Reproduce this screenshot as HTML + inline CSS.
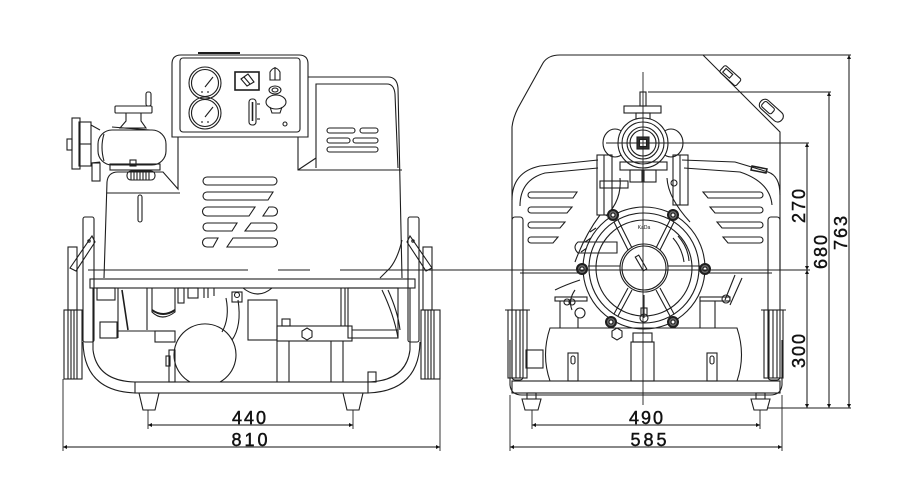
<!DOCTYPE html>
<html><head><meta charset="utf-8"><style>
html,body{margin:0;padding:0;background:#fff;}
svg{display:block;}
text{font-family:"Liberation Sans",sans-serif;fill:#111;font-size:18px;stroke:#111;stroke-width:0.45;}
</style></head><body>
<svg width="900" height="489" viewBox="0 0 900 489" xmlns="http://www.w3.org/2000/svg">
<defs>
<marker id="ar" viewBox="0 0 10 10" refX="10" refY="5" markerWidth="7" markerHeight="4" orient="auto-start-reverse" markerUnits="userSpaceOnUse"><path d="M0,0 L10,5 L0,10 z" fill="#111"/></marker>
</defs>
<rect width="900" height="489" fill="#fff"/>

<!-- ================= LEFT VIEW ================= -->
<g fill="none" stroke="#1e1e1e" stroke-width="1.1">
<rect x="68" y="247" width="9" height="63"/>
<rect x="83" y="217" width="11" height="125" rx="2"/>
<path d="M70,268 L92,236 L95,242 L76,271 Z"/>
<circle cx="89" cy="241" r="1.2"/>
<rect x="423" y="247" width="9" height="63"/>
<rect x="408" y="217" width="11" height="125" rx="2"/>
<path d="M432,268 L410,236 L407,242 L426,271 Z"/>
<circle cx="413" cy="241" r="1.2"/>

<!-- panel -->
<path d="M172,137 L172,64 Q172,55 181,55 L299,55 Q308,55 308,64 L308,137 Z"/>
<rect x="180" y="58" width="120" height="74" rx="3"/>
<line x1="198" y1="53" x2="240" y2="53" stroke-width="2"/>
<circle cx="205" cy="83" r="16"/><circle cx="205" cy="83" r="13.5"/>
<line x1="205" y1="87" x2="213" y2="77"/>
<line x1="201" y1="92" x2="203" y2="92"/><line x1="207" y1="92" x2="209" y2="92"/>
<circle cx="205" cy="113" r="16"/><circle cx="205" cy="113" r="13.5"/>
<line x1="205" y1="117" x2="213" y2="107"/>
<line x1="201" y1="122" x2="203" y2="122"/><line x1="207" y1="122" x2="209" y2="122"/>
<rect x="235" y="72" width="24" height="18" stroke-width="1.6"/>
<path d="M241,79 L248,74 L254,82 L247,86 Z"/>
<line x1="244" y1="77" x2="250" y2="84"/>
<path d="M270,80 L270,72 Q275,64 280,72 L280,80 Z"/>
<line x1="275" y1="67" x2="275" y2="80"/>
<ellipse cx="275" cy="90" rx="6" ry="4"/><ellipse cx="275" cy="90" rx="3" ry="2"/>
<rect x="249" y="99" width="7" height="26" rx="3"/>
<line x1="252.5" y1="102" x2="252.5" y2="121" stroke-width="1.6"/>
<line x1="257" y1="104" x2="260" y2="104"/><line x1="257" y1="119" x2="260" y2="119"/>
<ellipse cx="276" cy="102" rx="10" ry="7"/>
<path d="M270,107 L272,113 L280,113 L282,107"/>
<circle cx="285" cy="124" r="2"/>

<!-- right housing -->
<path d="M308,77 L388,77 Q397,77 398,88 L402,278"/>
<path d="M316,168 L316,84 L387,84 Q394,84 395,94 L398,168"/>
<path d="M298,137 L298,170 L402,170"/>
<line x1="298" y1="170" x2="316" y2="158"/>
<rect x="327" y="128" width="28" height="5" rx="2.5"/>
<rect x="360" y="128" width="18" height="5" rx="2.5"/>
<rect x="327" y="138" width="23" height="5" rx="2.5"/>
<rect x="353" y="138" width="25" height="5" rx="2.5"/>
<rect x="327" y="147" width="51" height="5" rx="2.5"/>

<!-- main body -->
<path d="M104,278 L107,182 Q108,172 118,172 L163,172 L178,189 L178,137"/>
<line x1="107" y1="193" x2="180" y2="193"/>
<rect x="138" y="195" width="4" height="27" rx="2"/>
<rect x="203" y="177" width="74" height="8" rx="4"/>
<path d="M207,192 L273,192 L268,200 L207,200 A4,4 0 0 1 207,192 Z"/>
<path d="M207,207 L255,207 L249,216 L207,216 A4.5,4.5 0 0 1 207,207 Z"/>
<path d="M269,207 L273,207 A4.5,4.5 0 0 1 273,216 L263,216 Z"/>
<path d="M207,223 L237,223 L232,231 L207,231 A4,4 0 0 1 207,223 Z"/>
<path d="M251,223 L273,223 A4,4 0 0 1 273,231 L245,231 Z"/>
<path d="M207,238 L218,238 L213,247 L207,247 A4.5,4.5 0 0 1 207,238 Z"/>
<path d="M233,238 L273,238 A4.5,4.5 0 0 1 273,247 L227,247 Z"/>
<path d="M402,240 Q398,258 390,268 L380,278"/>

<!-- valve -->
<rect x="146" y="92" width="5" height="14" rx="2"/>
<rect x="115" y="106" width="37" height="7" rx="1"/>
<path d="M126,113 L126,121 L120,128 L146,128 L141,121 L141,113"/>
<rect x="98" y="130" width="68" height="35" rx="14"/>
<path d="M104,134 Q100,147 104,161"/>
<rect x="79" y="122" width="12" height="44"/>
<rect x="72" y="118" width="8" height="51"/>
<rect x="67" y="139" width="5" height="11"/>
<line x1="79" y1="144" x2="91" y2="144"/>
<line x1="91" y1="125" x2="100" y2="130"/>
<line x1="91" y1="163" x2="100" y2="162"/>
<line x1="112" y1="127" x2="150" y2="130"/>
<rect x="110" y="164" width="50" height="6"/>
<rect x="127" y="171" width="28" height="9" rx="4"/>
<path d="M131,171 v9 M134,171 v9 M137,171 v9 M140,171 v9 M143,171 v9 M146,171 v9 M149,171 v9"/>
<rect x="92" y="163" width="8" height="18"/>
<rect x="130" y="160" width="6" height="6"/>

<!-- frame bar -->
<rect x="90" y="279" width="325" height="9"/>

<!-- internals -->
<rect x="97" y="288" width="18" height="12"/>
<line x1="118" y1="288" x2="118" y2="338"/>
<line x1="147" y1="288" x2="147" y2="330"/>
<path d="M122,290 L128,330" stroke-width="1.6"/>
<path d="M152,288 L152,312 Q162,322 175,312 L175,288"/>
<path d="M152,310 Q163,318 175,310" stroke-width="2"/>
<rect x="100" y="322" width="17" height="16"/>
<line x1="117" y1="331" x2="175" y2="331"/>
<rect x="155" y="331" width="20" height="11"/>
<rect x="178" y="288" width="6" height="15"/>
<rect x="188" y="288" width="10" height="10"/>
<path d="M204,288 v10 M208,288 v10 M214,288 v8"/>
<path d="M190,382 A31,31 0 1 1 220,382"/>
<rect x="169" y="350" width="6" height="32"/>
<rect x="166" y="356" width="4" height="10"/>
<path d="M226,298 Q230,318 222,332"/>
<path d="M238,300 Q242,326 232,340"/>
<rect x="232" y="292" width="10" height="10"/>
<circle cx="237" cy="295" r="2.5"/>
<rect x="248" y="300" width="29" height="40"/>
<path d="M243,288 Q258,300 272,288"/>
<rect x="277" y="326" width="75" height="15"/>
<polygon points="307,328 312,331 312,337 307,340 302,337 302,331"/>
<rect x="282" y="319" width="8" height="7"/>
<line x1="277" y1="341" x2="277" y2="382"/>
<line x1="289" y1="341" x2="289" y2="382"/>
<line x1="331" y1="341" x2="331" y2="382"/>
<line x1="343" y1="341" x2="343" y2="382"/>
<line x1="345" y1="288" x2="345" y2="326"/>
<line x1="341" y1="288" x2="341" y2="326"/>
<rect x="348" y="288" width="50" height="50"/>
<line x1="352" y1="330" x2="398" y2="330"/>
<path d="M382,290 Q394,315 398,338"/>
<path d="M388,290 Q398,312 400,330"/>
<rect x="368" y="372" width="8" height="10"/>

<!-- frame -->
<path d="M83,342 Q84,391 135,393"/>
<path d="M93,350 Q97,381 135,382"/>
<path d="M420,342 Q419,391 368,393"/>
<path d="M410,350 Q406,381 368,382"/>
<line x1="93" y1="288" x2="93" y2="350"/>
<line x1="410" y1="288" x2="410" y2="350"/>
<rect x="135" y="382" width="233" height="11"/>
<path d="M139,393 L143,410 L155,410 L159,393"/>
<path d="M343,393 L347,410 L359,410 L363,393"/>
<rect x="64" y="310" width="18" height="69"/>
<path d="M68,310 v69 M71,310 v69 M74,310 v69 M77,310 v69"/>
<rect x="421" y="310" width="19" height="69"/>
<path d="M425,310 v69 M428,310 v69 M431,310 v69 M434,310 v69"/>
</g>

<!-- ================= RIGHT VIEW ================= -->
<g fill="none" stroke="#1e1e1e" stroke-width="1.1">
<path d="M512,270 L512,127 Q513,118 518,108 L543,63 Q548,55 560,55 L703,55 L780,132 L780,270"/>
<g transform="rotate(42 730 76)"><rect x="719" y="71" width="22" height="9" rx="2"/><rect x="722" y="73" width="9" height="5"/></g>
<g transform="rotate(42 771 111)"><rect x="757" y="105" width="28" height="11" rx="5"/><rect x="760" y="107" width="13" height="7" rx="2"/></g>
<path d="M512,200 Q512,172 540,166 L598,160"/>
<path d="M520,206 Q520,180 545,173 L598,168"/>
<path d="M780,195 Q780,176 768,172 L735,162 L682,160"/>
<path d="M772,205 Q770,182 740,172 L684,168"/>
<path d="M752,166 l15,3 l-1,4 l-15,-3 z" stroke-width="1.5"/>
<path d="M531,192 L577,192 L573,198 L531,198 A3,3 0 0 1 531,192 Z"/>
<path d="M531,207 L572,207 L567,213 L531,213 A3,3 0 0 1 531,207 Z"/>
<path d="M531,222 L565,222 L560,228 L531,228 A3,3 0 0 1 531,222 Z"/>
<path d="M531,237 L558,237 L553,243 L531,243 A3,3 0 0 1 531,237 Z"/>
<path d="M703,192 L760,192 A3,3 0 0 1 760,198 L708,198 Z"/>
<path d="M710,207 L760,207 A3,3 0 0 1 760,213 L715,213 Z"/>
<path d="M717,222 L760,222 A3,3 0 0 1 760,228 L722,228 Z"/>
<path d="M723,237 L760,237 A3,3 0 0 1 760,243 L728,243 Z"/>
<rect x="512" y="217" width="11" height="163" rx="3"/>
<rect x="768" y="217" width="12" height="163" rx="3"/>
<rect x="508" y="310" width="19" height="68"/>
<path d="M505,310 h25 M512,310 v68 M516,310 v68 M520,310 v68"/>
<rect x="764" y="310" width="19" height="68"/>
<path d="M761,310 h25 M769,310 v68 M773,310 v68 M777,310 v68"/>
<line x1="520" y1="273" x2="590" y2="273"/>
<line x1="700" y1="273" x2="772" y2="273"/>
<rect x="597" y="155" width="15" height="60"/>
<line x1="604" y1="155" x2="604" y2="215"/>
<rect x="673" y="155" width="15" height="50"/>
<line x1="680" y1="155" x2="680" y2="205"/>
<circle cx="674" cy="183" r="3"/>
<rect x="600" y="181" width="28" height="7"/>
<path d="M600,215 Q585,235 575,262"/>
<path d="M607,222 Q593,240 584,262"/>
<path d="M590,232 l6,-4 M585,242 l6,-4 M581,252 l6,-4"/>
<path d="M620,178 Q622,200 606,216"/>
<path d="M667,178 Q668,198 690,222"/>
<rect x="640" y="92" width="6" height="14"/>
<rect x="624" y="106" width="37" height="7"/>
<rect x="636" y="113" width="14" height="6"/>
<ellipse cx="615" cy="143" rx="12" ry="14"/>
<ellipse cx="671" cy="143" rx="12" ry="14"/>
<circle cx="643" cy="143" r="25" fill="#fff"/>
<circle cx="643" cy="143" r="21"/>
<circle cx="643" cy="143" r="16"/>
<circle cx="643" cy="143" r="13"/>
<rect x="637" y="137" width="12" height="12" fill="#333"/>
<rect x="639.5" y="139.5" width="7" height="7" fill="#fff"/>
<rect x="620" y="162" width="47" height="8"/>
<rect x="630" y="170" width="12" height="12"/>
<rect x="644" y="170" width="12" height="12"/>
<circle cx="644" cy="268" r="61" fill="#fff"/>
<circle cx="644" cy="268" r="55"/>
<circle cx="644" cy="268" r="48"/>
<circle cx="644" cy="268" r="24" fill="#fff"/>
<circle cx="644" cy="268" r="22"/>
<path d="M614,222 L628,250 M618,220 L632,248"/>
<path d="M674,222 L660,250 M670,220 L656,248"/>
<path d="M614,314 L628,288 M618,316 L632,290"/>
<path d="M674,314 L660,288 M670,316 L656,290"/>
<path d="M588,266 L620,266 M588,270 L620,270 M668,266 L700,266 M668,270 L700,270"/>
<path d="M644,295 L644,318"/>
<path d="M578,242 L617,242 L617,253 L578,253 Q572,247 578,242 Z"/>
<path d="M673,238 Q682,248 684,262 M678,236 Q688,247 689,261"/>
<rect x="639" y="255" width="4" height="16" transform="rotate(-30 641 263)"/>
<circle cx="644" cy="318" r="4"/>
<rect x="641" y="308" width="6" height="8"/>
<g stroke-width="2" fill="#666">
<circle cx="613" cy="215" r="5"/><circle cx="673" cy="215" r="5"/>
<circle cx="582" cy="269" r="5"/><circle cx="705" cy="269" r="5"/>
<circle cx="611" cy="322" r="5"/><circle cx="673" cy="322" r="5"/>
</g>
<g fill="#fff">
<circle cx="613" cy="215" r="2"/><circle cx="673" cy="215" r="2"/>
<circle cx="582" cy="269" r="2"/><circle cx="705" cy="269" r="2"/>
<circle cx="611" cy="322" r="2"/><circle cx="673" cy="322" r="2"/>
</g>
<path d="M580,280 Q565,285 555,290 M575,290 Q568,300 572,310"/>
<circle cx="567" cy="302" r="3"/><circle cx="572" cy="302" r="3"/>
<rect x="555" y="297" width="32" height="4"/>
<circle cx="580" cy="313" r="5"/>
<rect x="700" y="297" width="30" height="4"/>
<circle cx="726" cy="299" r="4"/>
<path d="M735,275 L725,300 M742,278 L730,305"/>
<line x1="560" y1="301" x2="560" y2="328"/>
<line x1="578" y1="318" x2="578" y2="328"/>
<line x1="715" y1="301" x2="715" y2="328"/>
<line x1="700" y1="301" x2="700" y2="328"/>
<polygon points="617,328 622,331 622,337 617,340 612,337 612,331"/>
<path d="M550,328 L737,328 Q746,355 737,381 L550,381 Q541,355 550,328 Z"/>
<rect x="568" y="353" width="10" height="28"/>
<rect x="571" y="356" width="4" height="8" rx="2"/>
<rect x="707" y="353" width="10" height="28"/>
<rect x="710" y="356" width="4" height="8" rx="2"/>
<rect x="633" y="333" width="19" height="9"/>
<rect x="631" y="342" width="23" height="39"/>
<rect x="526" y="350" width="17" height="18"/>
<path d="M510,340 L510,385 Q511,395 522,395 L770,395 Q781,395 782,385 L782,340"/>
<rect x="512" y="381" width="268" height="12"/>
<path d="M522,399 L525,410 L538,410 L541,399 Z"/>
<rect x="527" y="393" width="9" height="6"/>
<path d="M751,399 L754,410 L767,410 L770,399 Z"/>
<rect x="756" y="393" width="9" height="6"/>
</g>
<text x="644" y="229" style="font-size:5px;stroke-width:0" text-anchor="middle">KaDa</text>

<!-- ================= CENTER / EXTENSION LINES ================= -->
<g stroke="#1e1e1e" stroke-width="0.9" fill="none">
<line x1="88" y1="270" x2="248" y2="270"/>
<line x1="278" y1="270" x2="310" y2="270"/>
<line x1="340" y1="270" x2="810" y2="270"/>
<line x1="643" y1="72" x2="643" y2="405"/>
<line x1="703" y1="55" x2="851" y2="55"/>
<line x1="648" y1="92" x2="831" y2="92"/>
<line x1="606" y1="143" x2="809" y2="143"/>
<line x1="767" y1="408" x2="851" y2="408"/>
<line x1="148" y1="410" x2="148" y2="429"/>
<line x1="353" y1="410" x2="353" y2="429"/>
<line x1="63" y1="379" x2="63" y2="451"/>
<line x1="440" y1="379" x2="440" y2="451"/>
<line x1="532" y1="410" x2="532" y2="429"/>
<line x1="760" y1="410" x2="760" y2="429"/>
<line x1="510" y1="395" x2="510" y2="451"/>
<line x1="782" y1="395" x2="782" y2="451"/>
</g>
<g stroke="#111" stroke-width="1" fill="none">
<line x1="148" y1="425" x2="353" y2="425" marker-start="url(#ar)" marker-end="url(#ar)"/>
<line x1="63" y1="447" x2="440" y2="447" marker-start="url(#ar)" marker-end="url(#ar)"/>
<line x1="532" y1="425" x2="760" y2="425" marker-start="url(#ar)" marker-end="url(#ar)"/>
<line x1="510" y1="447" x2="782" y2="447" marker-start="url(#ar)" marker-end="url(#ar)"/>
<line x1="807" y1="143" x2="807" y2="270" marker-start="url(#ar)" marker-end="url(#ar)"/>
<line x1="807" y1="270" x2="807" y2="408" marker-start="url(#ar)" marker-end="url(#ar)"/>
<line x1="829" y1="92" x2="829" y2="408" marker-start="url(#ar)" marker-end="url(#ar)"/>
<line x1="849" y1="55" x2="849" y2="408" marker-start="url(#ar)" marker-end="url(#ar)"/>
</g>

<!-- ================= TEXT ================= -->
<text x="250" y="424" text-anchor="middle" letter-spacing="2">440</text>
<text x="251" y="446" text-anchor="middle" letter-spacing="3">810</text>
<text x="647" y="424" text-anchor="middle" letter-spacing="2">490</text>
<text x="650" y="446" text-anchor="middle" letter-spacing="3">585</text>
<text x="805" y="205" text-anchor="middle" letter-spacing="2" transform="rotate(-90 805 205)">270</text>
<text x="805" y="350" text-anchor="middle" letter-spacing="2" transform="rotate(-90 805 350)">300</text>
<text x="827" y="251" text-anchor="middle" letter-spacing="2" transform="rotate(-90 827 251)">680</text>
<text x="847" y="232" text-anchor="middle" letter-spacing="2" transform="rotate(-90 847 232)">763</text>
</svg>
</body></html>
